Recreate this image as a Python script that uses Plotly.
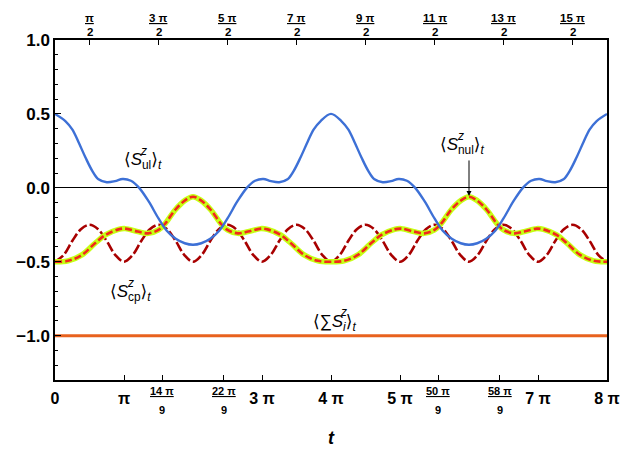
import plotly.graph_objects as go

# time values are in units of pi
t_ul = [0, 0.15, 0.25, 0.34, 0.44, 0.54, 0.63, 0.75, 0.87, 0.98, 1.1, 1.22, 1.36, 1.5, 1.62, 1.75, 1.88, 2.0,
        2.12, 2.25, 2.38, 2.5, 2.64, 2.78, 2.9, 3.02, 3.13, 3.25, 3.37, 3.46, 3.56, 3.66, 3.75, 3.85, 4.0,
        4.15, 4.25, 4.34, 4.44, 4.54, 4.63, 4.75, 4.87, 4.98, 5.1, 5.22, 5.36, 5.5, 5.62, 5.75, 5.88, 6.0,
        6.12, 6.25, 6.38, 6.5, 6.64, 6.78, 6.9, 7.02, 7.13, 7.25, 7.37, 7.46, 7.56, 7.66, 7.75, 7.85, 8.0]
s_ul = [0.5, 0.452, 0.395, 0.31, 0.207, 0.115, 0.058, 0.038, 0.045, 0.06, 0.048, 0.0, -0.094, -0.207, -0.29, -0.345, -0.375, -0.385,
        -0.375, -0.345, -0.29, -0.207, -0.094, 0.0, 0.048, 0.06, 0.045, 0.038, 0.058, 0.115, 0.207, 0.31, 0.395, 0.452, 0.5,
        0.452, 0.395, 0.31, 0.207, 0.115, 0.058, 0.038, 0.045, 0.06, 0.048, 0.0, -0.094, -0.207, -0.29, -0.345, -0.375, -0.385,
        -0.375, -0.345, -0.29, -0.207, -0.094, 0.0, 0.048, 0.06, 0.045, 0.038, 0.058, 0.115, 0.207, 0.31, 0.395, 0.452, 0.5]

t_nul = [0, 0.19, 0.39, 0.58, 0.73, 0.92, 1.02, 1.2, 1.35, 1.5, 1.6, 1.74, 1.89, 2.0,
         2.11, 2.26, 2.4, 2.5, 2.65, 2.8, 2.98, 3.08, 3.27, 3.42, 3.61, 3.81, 4.0,
         4.19, 4.39, 4.58, 4.73, 4.92, 5.02, 5.2, 5.35, 5.5, 5.6, 5.74, 5.89, 6.0,
         6.11, 6.26, 6.4, 6.5, 6.65, 6.8, 6.98, 7.08, 7.27, 7.42, 7.61, 7.81, 8.0]
s_nul = [-0.5, -0.494, -0.454, -0.375, -0.319, -0.281, -0.276, -0.296, -0.308, -0.285, -0.24, -0.15, -0.083, -0.06,
         -0.083, -0.15, -0.24, -0.285, -0.308, -0.296, -0.276, -0.281, -0.319, -0.375, -0.454, -0.494, -0.5,
         -0.494, -0.454, -0.375, -0.319, -0.281, -0.276, -0.296, -0.308, -0.285, -0.24, -0.15, -0.083, -0.06,
         -0.083, -0.15, -0.24, -0.285, -0.308, -0.296, -0.276, -0.281, -0.319, -0.375, -0.454, -0.494, -0.5]

t_cp = [0, 0.125, 0.25, 0.375, 0.5, 0.625, 0.75, 0.875, 1, 1.125, 1.25, 1.375, 1.5, 1.625, 1.75, 1.875,
        2, 2.125, 2.25, 2.375, 2.5, 2.625, 2.75, 2.875, 3, 3.125, 3.25, 3.375, 3.5, 3.625, 3.75, 3.875,
        4, 4.125, 4.25, 4.375, 4.5, 4.625, 4.75, 4.875, 5, 5.125, 5.25, 5.375, 5.5, 5.625, 5.75, 5.875,
        6, 6.125, 6.25, 6.375, 6.5, 6.625, 6.75, 6.875, 7, 7.125, 7.25, 7.375, 7.5, 7.625, 7.75, 7.875, 8]
s_cp = [-0.5, -0.455, -0.36, -0.28, -0.25, -0.28, -0.36, -0.455, -0.5, -0.455, -0.36, -0.28, -0.25, -0.28, -0.36, -0.455,
        -0.5, -0.455, -0.36, -0.28, -0.25, -0.28, -0.36, -0.455, -0.5, -0.455, -0.36, -0.28, -0.25, -0.28, -0.36, -0.455,
        -0.5, -0.455, -0.36, -0.28, -0.25, -0.28, -0.36, -0.455, -0.5, -0.455, -0.36, -0.28, -0.25, -0.28, -0.36, -0.455,
        -0.5, -0.455, -0.36, -0.28, -0.25, -0.28, -0.36, -0.455, -0.5, -0.455, -0.36, -0.28, -0.25, -0.28, -0.36, -0.455, -0.5]

t_sum = [0, 8]
s_sum = [-1.0, -1.0]

# bottom axis ticks (units of pi)
bottom_vals = [0, 1, 14/9, 22/9, 3, 4, 5, 50/9, 58/9, 7, 8]
bottom_text = ["0", "π", "", "", "3 π", "4 π", "5 π", "", "", "7 π", "8 π"]
frac_vals = [14/9, 22/9, 50/9, 58/9]
frac_num = ["14 π", "22 π", "50 π", "58 π"]
frac_den = ["9", "9", "9", "9"]
# top axis ticks
top_vals = [0.5, 1.5, 2.5, 3.5, 4.5, 5.5, 6.5, 7.5]
top_num = ["π", "3 π", "5 π", "7 π", "9 π", "11 π", "13 π", "15 π"]
top_den = ["2", "2", "2", "2", "2", "2", "2", "2"]
y_vals = [-1.0, -0.5, 0.0, 0.5, 1.0]

FONT = "Liberation Sans, Arial, DejaVu Sans, sans-serif"

fig = go.Figure()
fig.add_trace(go.Scatter(x=t_sum, y=s_sum, mode="lines", line=dict(color="#E8621E", width=3), showlegend=False))
fig.add_trace(go.Scatter(x=t_cp, y=s_cp, mode="lines", line=dict(color="#A80000", width=2.6, dash="10px,3px", shape="spline"), showlegend=False))
fig.add_trace(go.Scatter(x=t_nul, y=s_nul, mode="lines", line=dict(color="#C6FF14", width=5.5, shape="spline"), showlegend=False))
fig.add_trace(go.Scatter(x=t_nul, y=s_nul, mode="lines", line=dict(color="#F2281C", width=2.6, dash="7px,3px", shape="spline"), showlegend=False))
fig.add_trace(go.Scatter(x=t_ul, y=s_ul, mode="lines", line=dict(color="#3D70D6", width=2.4, shape="spline"), showlegend=False))
fig.add_trace(go.Scatter(x=t_sum, y=s_sum, mode="lines", xaxis="x2", line=dict(color="rgba(0,0,0,0)", width=0),
                         showlegend=False, hoverinfo="skip"))

ann_font = dict(family=FONT, size=17, color="black")
z_font = dict(family=FONT, size=12, color="black")
labels = [
    (1.275, 0.183, "⟨<i>S</i><sub>ul</sub>⟩<sub><i>t</i></sub>"),
    (1.10, -0.71, "⟨<i>S</i><sub>cp</sub>⟩<sub><i>t</i></sub>"),
    (5.91, 0.285, "⟨<i>S</i><sub>nul</sub>⟩<sub><i>t</i></sub>"),
    (4.05, -0.915, "⟨∑<i>S</i><sub><i>i</i></sub>⟩<sub><i>t</i></sub>"),
]
z_shift = [(1, 10), (0, 10), (-2, 10), (9, 11)]
annotations = []
for (x, y, txt), (dx, dy) in zip(labels, z_shift):
    annotations.append(dict(x=x, y=y, xref="x", yref="y", text=txt, showarrow=False, font=ann_font,
                            xanchor="center", yanchor="middle"))
    annotations.append(dict(x=x, y=y, xref="x", yref="y", text="<i>z</i>", showarrow=False, font=z_font,
                            xanchor="center", yanchor="middle", xshift=dx, yshift=dy))
annotations.append(dict(x=6.0, y=-0.055, xref="x", yref="y", text="", showarrow=True, arrowhead=2,
                        arrowsize=1, arrowwidth=1, arrowcolor="black", ax=0, ay=-37))

# fraction tick labels (numerator underlined as the fraction bar)
frac_font = dict(family=FONT, size=11, color="black", weight="bold")
for v, n, d in zip(frac_vals, frac_num, frac_den):
    annotations.append(dict(x=v, y=-0.031, xref="x", yref="paper", text="<u>%s</u>" % n, showarrow=False,
                            font=frac_font, xanchor="center", yanchor="middle"))
    annotations.append(dict(x=v, y=-0.088, xref="x", yref="paper", text=d, showarrow=False,
                            font=frac_font, xanchor="center", yanchor="middle"))
top_font = dict(family=FONT, size=11.5, color="black", weight="bold")
for v, n, d in zip(top_vals, top_num, top_den):
    annotations.append(dict(x=v, y=1.0647, xref="x", yref="paper", text="<u>%s</u>" % n, showarrow=False,
                            font=top_font, xanchor="center", yanchor="middle"))
    annotations.append(dict(x=v, y=1.0221, xref="x", yref="paper", text=d, showarrow=False,
                            font=top_font, xanchor="center", yanchor="middle"))

fig.update_layout(
    width=638, height=449,
    margin=dict(l=55, r=31, t=40, b=69),
    paper_bgcolor="white", plot_bgcolor="white",
    font=dict(family=FONT, color="black"),
    annotations=annotations,
    xaxis=dict(range=[0, 8], tickvals=bottom_vals, ticktext=bottom_text, ticks="inside", ticklen=5,
               tickcolor="black", tickwidth=1, showline=True, linecolor="black", linewidth=1.5, mirror=True,
               showgrid=False, zeroline=False, automargin=False, ticklabelstandoff=3,
               tickfont=dict(family=FONT, size=16, weight="bold"),
               title=dict(text="<b><i>t</i></b>", font=dict(family=FONT, size=18), standoff=25)),
    xaxis2=dict(range=[0, 8], overlaying="x", side="top", tickvals=top_vals, showticklabels=False,
                ticks="inside", ticklen=5, tickcolor="black", showline=False, showgrid=False, zeroline=False,
                automargin=False),
    yaxis=dict(range=[-1.3, 1.0], tickvals=y_vals, tickformat=".1f", ticks="inside", ticklen=6,
               tickcolor="black", showline=True, linecolor="black", linewidth=1.5, mirror=True,
               showgrid=False, zeroline=True, zerolinecolor="black", zerolinewidth=1, automargin=False,
               minor=dict(dtick=0.1, ticks="inside", ticklen=3, tickcolor="black", showgrid=False),
               tickfont=dict(family=FONT, size=17, weight="bold")),
)

fig.write_html("out.html", config={"displayModeBar": False},
               post_script="document.body.style.margin='0';")
